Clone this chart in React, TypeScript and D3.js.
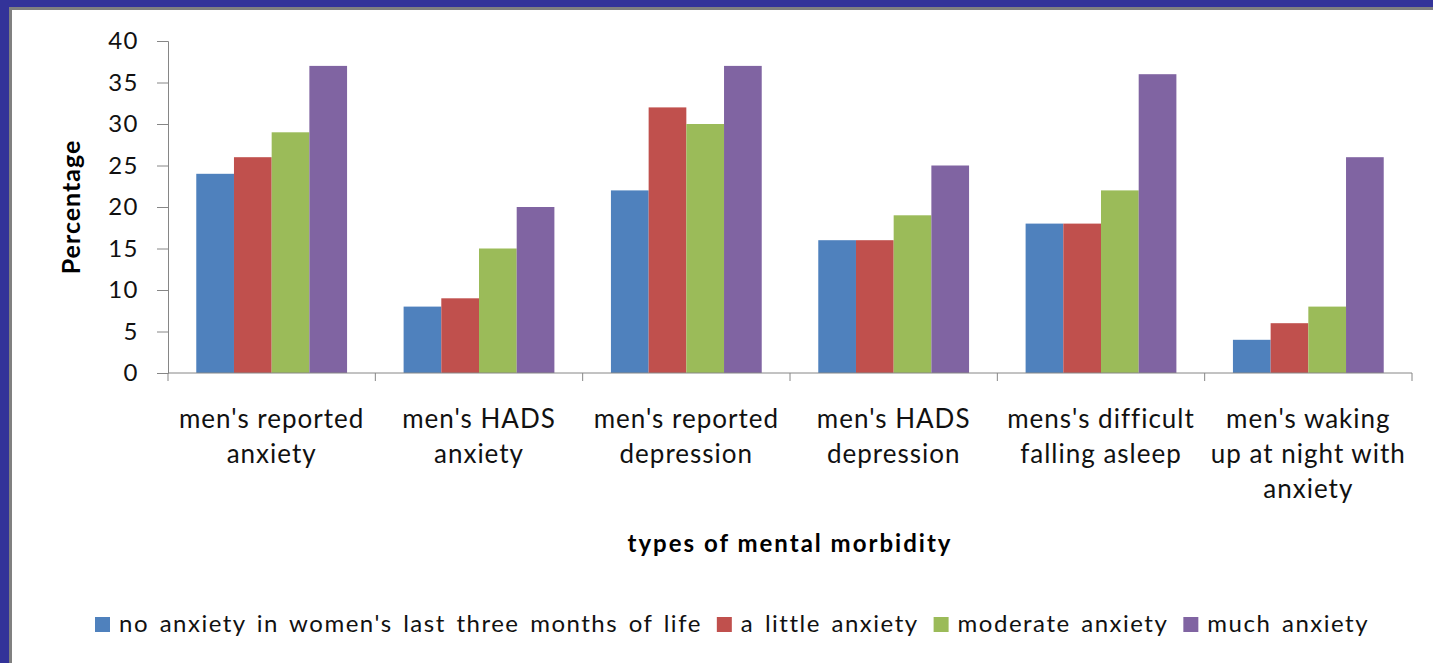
import { useEffect, useRef } from "react"
import * as d3 from "d3"

const categories = [
  ["men's reported", "anxiety"],
  ["men's HADS", "anxiety"],
  ["men's reported", "depression"],
  ["men's HADS", "depression"],
  ["mens's difficult", "falling asleep"],
  ["men's waking", "up at night with", "anxiety"],
]
const seriesNames = [
  "no anxiety in women's last three months of life",
  "a little anxiety",
  "moderate anxiety",
  "much anxiety",
]
const noAnxiety = [24, 8, 22, 16, 18, 4]
const littleAnxiety = [26, 9, 32, 16, 18, 6]
const moderateAnxiety = [29, 15, 30, 19, 22, 8]
const muchAnxiety = [37, 20, 37, 25, 36, 26]
const yTicks = [0, 5, 10, 15, 20, 25, 30, 35, 40]
const colors = ["#4F81BD", "#C0504D", "#9BBB59", "#8064A2"]

const W = 1433
const H = 663
const FONT = "Lato, 'Open Sans', sans-serif"

export default function App() {
  const svgRef = useRef<SVGSVGElement>(null)

  useEffect(() => {
    if (!svgRef.current) return
    const svg = d3.select(svgRef.current)
    svg.selectAll("*").remove()

    const series = [noAnxiety, littleAnxiety, moderateAnxiety, muchAnxiety]
    const margin = { left: 168, right: 21, top: 41, bottom: 290 }
    const plotW = W - margin.left - margin.right
    const plotH = H - margin.top - margin.bottom

    // frame
    svg.append("rect").attr("width", W).attr("height", H).attr("fill", "#fff")
    svg.append("rect").attr("width", W).attr("height", 7).attr("fill", "#333399")
    svg.append("rect").attr("width", 9).attr("height", H).attr("fill", "#333399")
    svg.append("rect").attr("x", 9).attr("y", 7).attr("width", W).attr("height", 3).attr("fill", "#808080")
    svg.append("rect").attr("x", 9).attr("y", 7).attr("width", 3).attr("height", H).attr("fill", "#808080")

    const x0 = d3.scaleBand<number>()
      .domain(categories.map((_, i) => i))
      .range([0, plotW])
      .padding(0)
    const x1 = d3.scaleBand<number>()
      .domain(series.map((_, i) => i))
      .range([0, x0.bandwidth()])
      .paddingInner(0)
      .paddingOuter(0.75)
    const y = d3.scaleLinear().domain([0, 40]).range([plotH, 0])

    const chart = svg.append("g").attr("transform", `translate(${margin.left},${margin.top})`)

    // bars
    const groups = chart.selectAll("g.grp").data(categories).enter().append("g")
      .attr("transform", (_, i) => `translate(${x0(i)},0)`)
    groups.selectAll("rect")
      .data((_, i) => series.map((s, j) => ({ j, v: s[i] })))
      .enter().append("rect")
      .attr("x", d => x1(d.j) as number)
      .attr("y", d => y(d.v))
      .attr("width", x1.bandwidth())
      .attr("height", d => plotH - y(d.v))
      .attr("fill", d => colors[d.j])

    // y axis
    const yAxis = chart.append("g")
      .call(d3.axisLeft(y).tickValues(yTicks).tickSize(11).tickPadding(18))
    yAxis.select(".domain").attr("stroke", "#868686")
    yAxis.selectAll(".tick line").attr("stroke", "#868686")
    yAxis.selectAll("text").attr("font-family", FONT).attr("font-size", 24)
      .attr("letter-spacing", 1.5).attr("fill", "#111")

    // x axis
    const xAxis = chart.append("g").attr("transform", `translate(0,${plotH})`)
    xAxis.append("line").attr("x1", 0).attr("x2", plotW).attr("stroke", "#868686")
    xAxis.selectAll("line.tk").data(d3.range(categories.length + 1)).enter().append("line")
      .attr("x1", d => d * x0.bandwidth()).attr("x2", d => d * x0.bandwidth())
      .attr("y1", 0).attr("y2", 8).attr("stroke", "#868686")
    const labels = xAxis.selectAll("text.cat").data(categories).enter().append("text")
      .attr("x", (_, i) => (x0(i) as number) + x0.bandwidth() / 2)
      .attr("y", 55)
      .attr("text-anchor", "middle")
      .attr("font-family", FONT).attr("font-size", 26).attr("letter-spacing", 1).attr("fill", "#111")
    labels.selectAll("tspan").data(d => d).enter().append("tspan")
      .attr("x", function () { return (this.parentNode as SVGTextElement).getAttribute("x") })
      .attr("dy", (_, k) => (k === 0 ? 0 : 35))
      .text(d => d)

    // axis titles
    svg.append("text")
      .attr("transform", `translate(80,207) rotate(-90)`)
      .attr("text-anchor", "middle")
      .attr("font-family", FONT).attr("font-weight", "bold").attr("font-size", 25)
      .attr("letter-spacing", 1).attr("fill", "#000")
      .text("Percentage")
    svg.append("text")
      .attr("x", 790).attr("y", 552)
      .attr("text-anchor", "middle")
      .attr("font-family", FONT).attr("font-weight", "bold").attr("font-size", 24)
      .attr("letter-spacing", 2).attr("fill", "#000")
      .text("types of mental morbidity")

    // legend
    const legend = svg.append("g").attr("transform", "translate(95,632)")
    let lx = 0
    seriesNames.forEach((name, i) => {
      const g = legend.append("g").attr("transform", `translate(${lx},0)`)
      g.append("rect").attr("x", 0).attr("y", -15).attr("width", 15).attr("height", 15).attr("fill", colors[i])
      const t = g.append("text").attr("x", 24).attr("y", 0)
        .attr("font-family", FONT).attr("font-size", 24).attr("letter-spacing", 1.5)
        .attr("word-spacing", 3).attr("fill", "#111")
        .text(name)
      const tw = (t.node() as SVGTextElement).getComputedTextLength()
      lx += 24 + tw + 15
    })
  }, [])

  return (
    <svg
      ref={svgRef}
      width={W}
      height={H}
      viewBox={`0 0 ${W} ${H}`}
      style={{ position: "absolute", left: 0, top: 0, display: "block" }}
      xmlns="http://www.w3.org/2000/svg"
    ></svg>
  )
}
